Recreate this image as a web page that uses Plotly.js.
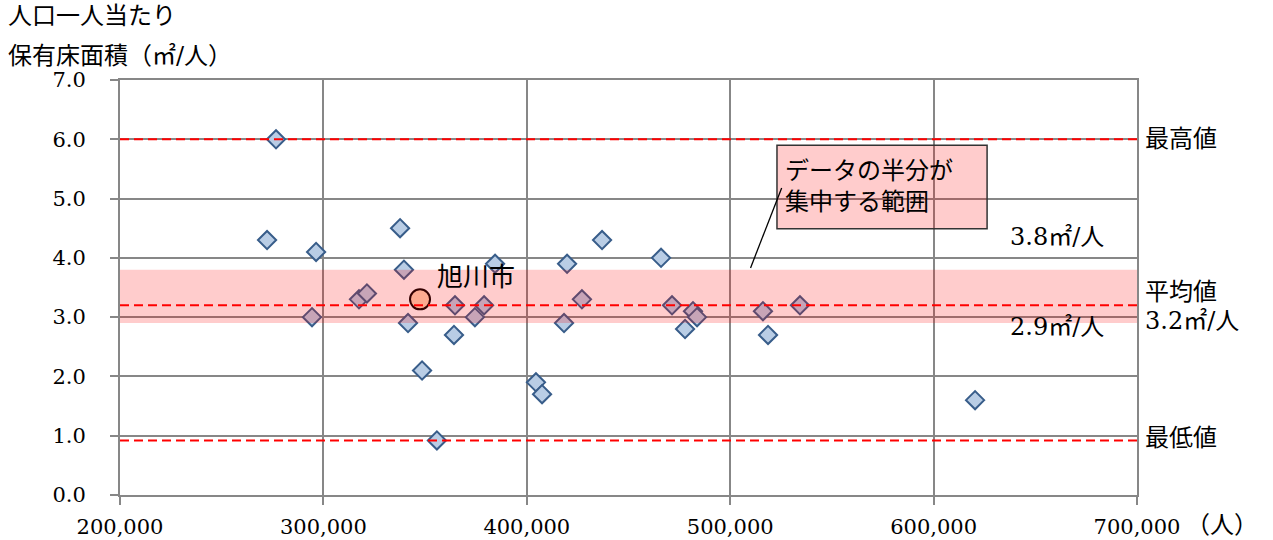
<!DOCTYPE html>
<html><head><meta charset="utf-8">
<script src="https://cdn.plot.ly/plotly-3.0.1.min.js"></script>
<style>html,body{margin:0;padding:0;background:#fff}</style>
</head><body>
<div id="chart" style="width:1273px;height:540px"></div>
<script>
// population (people)
const population = [276700, 272300, 296400, 294400, 317500, 321400, 337700, 339600, 341600, 348500,
  355800, 364700, 364200, 374500, 379000, 384400, 404500, 407500, 419800, 418300,
  427100, 437000, 466000, 471400, 481700, 483700, 477800, 516100, 518600, 534300, 620400];
// floor area per person (m2/person)
const floorArea = [6.0, 4.3, 4.1, 3.0, 3.3, 3.4, 4.5, 3.8, 2.9, 2.1,
  0.92, 3.2, 2.7, 3.0, 3.2, 3.9, 1.9, 1.7, 3.9, 2.9,
  3.3, 4.3, 4.0, 3.2, 3.1, 3.0, 2.8, 3.1, 2.7, 3.2, 1.6];
const cityName = ['旭川市'];
const cityPopulation = [347500];
const cityFloorArea = [3.3];
const maxValue = 6.0, avgValue = 3.2, minValue = 0.92;
const bandTop = 3.8, bandBottom = 2.9;
const yTicks = [0, 1, 2, 3, 4, 5, 6, 7];
const xTicks = [200000, 300000, 400000, 500000, 600000, 700000];
const titleLines = ['人口一人当たり', '保有床面積（㎡/人）'];
const rightLabels = ['最高値', '平均値', '3.2㎡/人', '最低値'];
const bandLabels = ['3.8㎡/人', '2.9㎡/人'];
const calloutText = 'データの半分が<br>集中する範囲';
const xUnit = '（人）';

const FONT = "DejaVu Serif, Noto Sans CJK JP";
const NUMFONT = "DejaVu Serif";
const GRID = '#878787';

const traces = [
  {type: 'scatter', mode: 'markers', x: population, y: floorArea, hoverinfo: 'skip',
   marker: {symbol: 'diamond', size: 14, color: '#b9cde5', line: {color: '#385d8a', width: 2}}},
  {type: 'scatter', mode: 'markers', x: cityPopulation, y: cityFloorArea, hoverinfo: 'skip',
   marker: {symbol: 'circle', size: 20, color: '#fcd5b5', line: {color: '#000', width: 2}}}
];

function hline(y) {
  return {type: 'line', xref: 'paper', x0: 0, x1: 1, yref: 'y', y0: y, y1: y, layer: 'above',
          line: {color: '#ff0000', width: 2, dash: '9px,5px'}};
}

const shapes = [
  {type: 'rect', xref: 'paper', x0: 0, x1: 1, yref: 'y', y0: bandBottom, y1: bandTop, layer: 'above',
   fillcolor: 'rgba(255,0,0,0.2)', line: {width: 0}},
  hline(maxValue), hline(avgValue), hline(minValue),
  {type: 'rect', xref: 'x', yref: 'y', x0: 523000, x1: 626300, y0: 4.49, y1: 5.9, layer: 'above',
   fillcolor: 'rgba(255,0,0,0.2)', line: {color: '#333', width: 1.5}},
  {type: 'line', xref: 'x', yref: 'y', x0: 525300, y0: 5.18, x1: 510000, y1: 3.83, layer: 'above',
   line: {color: '#000', width: 1.3}}
];

const ann = (o) => Object.assign({showarrow: false, font: {family: FONT, size: 24, color: '#000'}}, o);
const annotations = [
  ann({xref: 'paper', yref: 'paper', x: -0.112, y: 1.155, xanchor: 'left', yanchor: 'middle', text: titleLines[0]}),
  ann({xref: 'paper', yref: 'paper', x: -0.112, y: 1.057, xanchor: 'left', yanchor: 'middle', text: titleLines[1]}),
  ann({xref: 'paper', yref: 'y', x: 1, y: maxValue, xanchor: 'left', xshift: 6, text: rightLabels[0]}),
  ann({xref: 'paper', yref: 'y', x: 1, y: avgValue, xanchor: 'left', xshift: 6, yshift: 13, text: rightLabels[1]}),
  ann({xref: 'paper', yref: 'y', x: 1, y: avgValue, xanchor: 'left', xshift: 6, yshift: -16, text: rightLabels[2]}),
  ann({xref: 'paper', yref: 'y', x: 1, y: minValue, xanchor: 'left', xshift: 6, yshift: 2, text: rightLabels[3]}),
  ann({xref: 'paper', yref: 'y', x: 0.9695, y: bandTop, xanchor: 'right', yshift: 33, text: bandLabels[0]}),
  ann({xref: 'paper', yref: 'y', x: 0.9695, y: bandBottom, xanchor: 'right', yshift: -4, text: bandLabels[1]}),
  ann({xref: 'x', yref: 'y', x: cityPopulation[0], y: cityFloorArea[0], xanchor: 'left', xshift: 15, yshift: 22,
       text: cityName[0], font: {family: FONT, size: 26, color: '#000'}}),
  ann({xref: 'x', yref: 'y', x: 526000, y: 5.2, xanchor: 'left', yanchor: 'middle', align: 'left', text: calloutText}),
  ann({xref: 'paper', yref: 'paper', x: 1.046, y: -0.072, xanchor: 'left', yanchor: 'middle', text: xUnit})
];

const layout = {
  width: 1273, height: 540,
  margin: {l: 120, r: 136, t: 80, b: 45},
  paper_bgcolor: '#fff', plot_bgcolor: '#fff',
  showlegend: false,
  font: {family: NUMFONT, size: 21, color: '#000'},
  xaxis: {range: [200000, 700000], tickvals: xTicks, tickformat: ',d', showgrid: true, gridcolor: GRID, gridwidth: 2,
          showline: true, mirror: true, linecolor: GRID, linewidth: 2, zeroline: false,
          ticks: 'outside', ticklen: 8, tickwidth: 2, tickcolor: GRID, ticklabelstandoff: 4,
          tickfont: {family: NUMFONT, size: 21, color: '#000'}},
  yaxis: {range: [0, 7], tickvals: yTicks, tickformat: '.1f', showgrid: true, gridcolor: GRID, gridwidth: 2,
          showline: true, mirror: true, linecolor: GRID, linewidth: 2, zeroline: false,
          ticks: 'outside', ticklen: 8, tickwidth: 2, tickcolor: GRID, ticklabelstandoff: 20,
          tickfont: {family: NUMFONT, size: 21, color: '#000'}},
  shapes: shapes,
  annotations: annotations
};

Plotly.newPlot('chart', traces, layout, {displayModeBar: false, staticPlot: true});
</script>
</body></html>
